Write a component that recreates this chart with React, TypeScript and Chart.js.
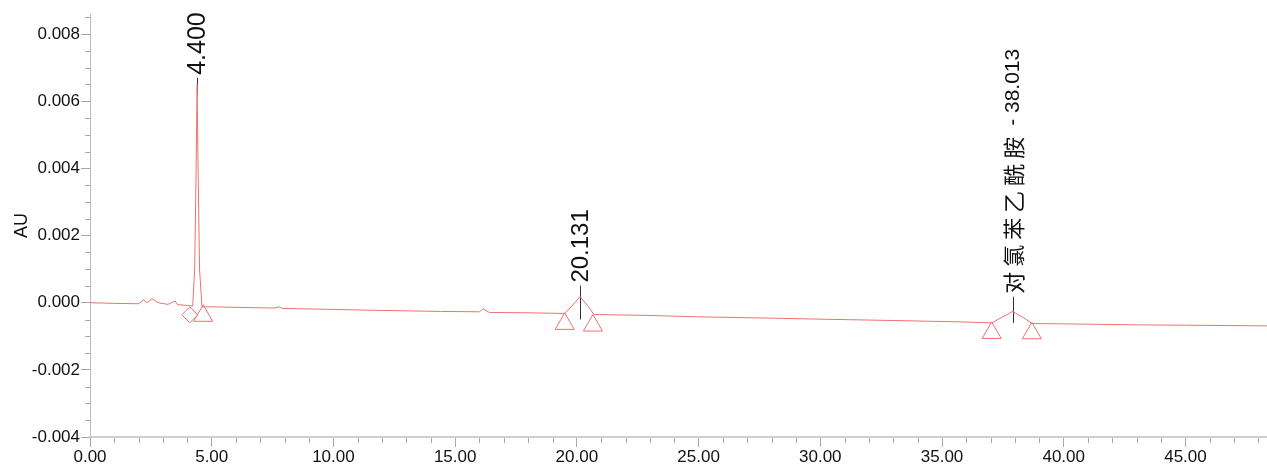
import { useEffect, useRef } from 'react';
import { Chart, registerables } from 'chart.js';

Chart.register(...registerables);

// Chromatogram trace (minutes, AU)
const traceTimes = [
  0.0, 1.0, 2.0, 2.2, 2.35, 2.55, 2.8, 3.2, 3.5, 3.6, 4.0, 4.22, 4.3, 4.36, 4.4, 4.44, 4.5, 4.6, 4.75,
  5.5, 7.6, 7.75, 7.9, 10.0, 12.0, 14.4, 16.0, 16.15, 16.4, 18.0, 19.5, 19.8, 20.131, 20.45, 20.7,
  23.0, 25.0, 28.0, 30.0, 33.0, 35.7, 37.05, 37.5, 37.9, 38.35, 38.7, 40.0, 43.0, 45.0, 48.35,
];
const traceValues = [
  0.0, -0.00002, -0.00003, 0.00008, 0.0, 0.00012, 0.0, -0.00005, 0.00005, -0.00006, -0.00008, -0.0001,
  0.001, 0.004, 0.0065, 0.004, 0.001, -0.00012, -0.00012,
  -0.00013, -0.00016, -0.00012, -0.00017, -0.0002, -0.00023, -0.00026, -0.00027, -0.00018, -0.00029,
  -0.0003, -0.00032, -0.0001, 0.00018, -0.0001, -0.00035,
  -0.00038, -0.00042, -0.00046, -0.00049, -0.00053, -0.00057, -0.0006, -0.00042, -0.00026, -0.00045,
  -0.00062, -0.00063, -0.00066, -0.00067, -0.00069,
];

// Integration marks
const diamondTimes = [4.1];
const diamondValues = [-0.00036];
const triangleTimes = [4.65, 19.5, 20.66, 37.04, 38.69];
const triangleValues = [-0.00039, -0.00063, -0.00068, -0.0009, -0.00091];

// Peak annotations
const peakTimes = [4.4, 20.131, 37.9];
const peakNames = ['', '', '对氯苯乙酰胺'];
const peakTimeLabels = ['4.400', '20.131', '38.013'];
const peakLabelValues = [0.0067, 0.00051, 0.00018];
const peakBaseValues = [0.0062, -0.0005, -0.0006];

// Axes
const xMajorTicks = [0, 5, 10, 15, 20, 25, 30, 35, 40, 45];
const xMinorStep = 1;
const yMajorTicks = [-0.004, -0.002, 0.0, 0.002, 0.004, 0.006, 0.008];
const yMinorStep = 0.0005;
const xMin = 0;
const xMax = 48.35;
const yMin = -0.004;
const yMax = 0.0086;

const TRACE = 'rgb(240,112,112)';
const LATIN = '"Liberation Sans", Arial, sans-serif';
const CJK = '"Noto Sans CJK SC", sans-serif';

const annotPlugin = {
  id: 'annot',
  beforeDatasetsDraw(chart: any) {
    const { ctx, chartArea } = chart;
    const x = chart.scales.x;
    const y = chart.scales.y;
    ctx.save();
    // minor ticks
    ctx.strokeStyle = '#a8a8a8';
    ctx.lineWidth = 1;
    ctx.beginPath();
    for (let v = xMin; v <= xMax + 1e-9; v += xMinorStep) {
      if (xMajorTicks.some((m) => Math.abs(m - v) < 1e-6)) continue;
      const px = Math.round(x.getPixelForValue(v)) + 0.5;
      ctx.moveTo(px, chartArea.bottom + 1);
      ctx.lineTo(px, chartArea.bottom + 6);
    }
    for (let v = yMin; v <= yMax + 1e-12; v += yMinorStep) {
      if (yMajorTicks.some((m) => Math.abs(m - v) < 1e-9)) continue;
      const py = Math.round(y.getPixelForValue(v)) + 0.5;
      ctx.moveTo(chartArea.left, py);
      ctx.lineTo(chartArea.left - 5, py);
    }
    ctx.stroke();
    // drop lines
    ctx.strokeStyle = '#333';
    ctx.beginPath();
    peakTimes.forEach((t, i) => {
      const px = Math.round(x.getPixelForValue(t)) + 0.5;
      ctx.moveTo(px, y.getPixelForValue(peakLabelValues[i]));
      ctx.lineTo(px, y.getPixelForValue(peakBaseValues[i]));
    });
    ctx.stroke();
    ctx.restore();
  },
  afterDatasetsDraw(chart: any) {
    const { ctx } = chart;
    const x = chart.scales.x;
    const y = chart.scales.y;
    peakTimes.forEach((t, i) => {
      const px = x.getPixelForValue(t) + 1;
      const py = y.getPixelForValue(peakLabelValues[i]) - 3;
      ctx.save();
      ctx.translate(px, py);
      ctx.rotate(-Math.PI / 2);
      ctx.fillStyle = '#111';
      ctx.textAlign = 'left';
      ctx.textBaseline = 'middle';
      if (peakNames[i]) {
        ctx.font = `22px ${CJK}`;
        (ctx as any).letterSpacing = '5px';
        ctx.fillText(peakNames[i], 0, 0);
        const off = ctx.measureText(peakNames[i]).width;
        (ctx as any).letterSpacing = '0px';
        ctx.font = `21px ${LATIN}`;
        ctx.fillText(' - ' + peakTimeLabels[i], off, 0);
      } else {
        ctx.font = `${i === 0 ? 25 : 24}px ${LATIN}`;
        ctx.fillText(peakTimeLabels[i], 0, 0);
      }
      ctx.restore();
    });
  },
};

export default function App() {
  const ref = useRef<HTMLCanvasElement | null>(null);
  useEffect(() => {
    if (!ref.current) return;
    const chart = new Chart(ref.current, {
      type: 'scatter',
      data: {
        datasets: [
          {
            data: traceTimes.map((t, i) => ({ x: t, y: traceValues[i] })),
            showLine: true,
            borderColor: TRACE,
            borderWidth: 1,
            pointRadius: 0,
            tension: 0,
          },
          {
            data: triangleTimes.map((t, i) => ({ x: t, y: triangleValues[i] })),
            showLine: false,
            pointStyle: 'triangle',
            pointRadius: 11,
            borderColor: TRACE,
            borderWidth: 1,
            backgroundColor: 'rgba(0,0,0,0)',
          },
          {
            data: diamondTimes.map((t, i) => ({ x: t, y: diamondValues[i] })),
            showLine: false,
            pointStyle: 'rectRot',
            pointRadius: 8,
            borderColor: TRACE,
            borderWidth: 1,
            backgroundColor: 'rgba(0,0,0,0)',
          },
        ],
      },
      options: {
        animation: false,
        responsive: true,
        maintainAspectRatio: false,
        layout: { autoPadding: false, padding: { top: 14, left: 0, right: 0, bottom: 0 } },
        plugins: { legend: { display: false }, tooltip: { enabled: false } },
        scales: {
          x: {
            type: 'linear',
            min: xMin,
            max: xMax,
            afterBuildTicks: (axis: any) => {
              axis.ticks = xMajorTicks.map((v) => ({ value: v }));
            },
            afterFit: (scale: any) => {
              scale.height = 33;
            },
            ticks: {
              callback: (v: any) => Number(v).toFixed(2),
              font: { family: LATIN, size: 17 },
              color: '#111',
              padding: 0,
              maxRotation: 0,
              autoSkip: false,
            },
            grid: {
              display: true,
              drawOnChartArea: false,
              drawTicks: true,
              tickLength: 10,
              tickColor: '#a8a8a8',
            },
            border: { display: true, color: '#cfcfcf', width: 2 },
          },
          y: {
            type: 'linear',
            min: yMin,
            max: yMax,
            afterBuildTicks: (axis: any) => {
              axis.ticks = yMajorTicks.map((v) => ({ value: v }));
            },
            afterFit: (scale: any) => {
              scale.width = 90;
            },
            ticks: {
              callback: (v: any) => Number(v).toFixed(3),
              font: { family: LATIN, size: 17 },
              color: '#111',
              padding: 1,
              autoSkip: false,
            },
            grid: {
              display: true,
              drawOnChartArea: false,
              drawTicks: true,
              tickLength: 9,
              tickColor: '#a8a8a8',
            },
            border: { display: true, color: '#bdbdbd', width: 1 },
            title: {
              display: true,
              text: 'AU',
              font: { family: LATIN, size: 18 },
              color: '#111',
              padding: { top: 11, bottom: 0 },
            },
          },
        },
      },
      plugins: [annotPlugin],
    });
    return () => chart.destroy();
  }, []);
  return (
    <div style={{ position: 'fixed', left: 0, top: 0, width: 1267, height: 470, background: '#fff' }}>
      <canvas ref={ref} />
    </div>
  );
}
